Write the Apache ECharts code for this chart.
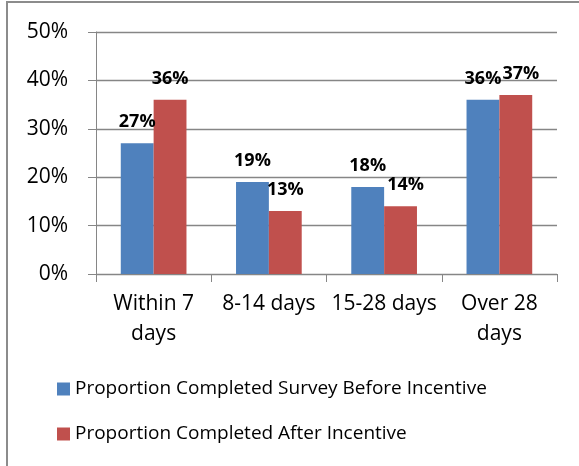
<!DOCTYPE html>
<html>
<head>
<meta charset="utf-8">
<style>
  html, body { margin: 0; padding: 0; background: #ffffff; }
  #chart { width: 579px; height: 466px; }
</style>
<script src="https://cdn.jsdelivr.net/npm/echarts@6/dist/echarts.min.js"></script>
</head>
<body>
<div id="chart"></div>
<script>
// Response timing categories
const categories = ['Within 7\ndays', '8-14 days', '15-28 days', 'Over 28\ndays'];
// Share of respondents (%)
const beforeIncentive = [27, 19, 18, 36];
const afterIncentive = [36, 13, 14, 37];
const seriesNames = ['Proportion Completed Survey Before Incentive', 'Proportion Completed After Incentive'];
const yTicks = { min: 0, max: 50, interval: 10 };

const FONT = 'Open Sans';
const gridColor = '#868686';
// nudge a few value labels sideways so neighbouring labels don't collide
const afterLabelNudge = { 2: [5, 0], 3: [5, 0] };

const chart = echarts.init(document.getElementById('chart'), null, { renderer: 'canvas' });

const labelStyle = {
  show: true,
  position: 'top',
  distance: 12,
  formatter: p => p.value + '%',
  fontFamily: FONT,
  fontWeight: 'bold',
  fontSize: 18,
  color: '#000'
};

const afterData = afterIncentive.map((v, i) =>
  afterLabelNudge[i] ? { value: v, label: { offset: afterLabelNudge[i] } } : v
);

chart.setOption({
  animation: false,
  textStyle: { fontFamily: FONT },
  graphic: [
    // frame around the chart area (left and top edges visible)
    { type: 'rect', shape: { x: 7, y: 2, width: 620, height: 520 },
      style: { fill: 'none', stroke: '#8c8c8c', lineWidth: 2 }, silent: true }
  ],
  grid: { left: 96, right: 22, top: 32, bottom: 192, containLabel: false },
  legend: {
    orient: 'vertical',
    left: 52,
    top: 374,
    itemWidth: 13,
    itemHeight: 13,
    itemGap: 25,
    icon: 'rect',
    textStyle: { fontFamily: FONT, fontSize: 19, color: '#000', lineHeight: 20 },
    data: seriesNames
  },
  xAxis: {
    type: 'category',
    data: categories,
    axisLine: { lineStyle: { color: gridColor, width: 1 } },
    axisTick: { show: true, length: 8, alignWithLabel: false, lineStyle: { color: gridColor } },
    axisLabel: { fontFamily: FONT, fontSize: 21, color: '#000', lineHeight: 30, margin: 15, interval: 0 }
  },
  yAxis: {
    type: 'value',
    min: yTicks.min,
    max: yTicks.max,
    interval: yTicks.interval,
    axisLine: { show: true, lineStyle: { color: gridColor, width: 1 } },
    axisTick: { show: true, length: 8, lineStyle: { color: gridColor } },
    splitLine: { show: true, lineStyle: { color: gridColor, width: 1.3 } },
    axisLabel: { formatter: '{value}%', fontFamily: FONT, fontSize: 21, color: '#000', margin: 28 }
  },
  series: [
    {
      name: seriesNames[0],
      type: 'bar',
      data: beforeIncentive,
      barGap: '0%',
      barCategoryGap: '43%',
      itemStyle: { color: '#4F81BD' },
      label: labelStyle
    },
    {
      name: seriesNames[1],
      type: 'bar',
      data: afterData,
      itemStyle: { color: '#C0504D' },
      label: labelStyle
    }
  ]
});
</script>
</body>
</html>
